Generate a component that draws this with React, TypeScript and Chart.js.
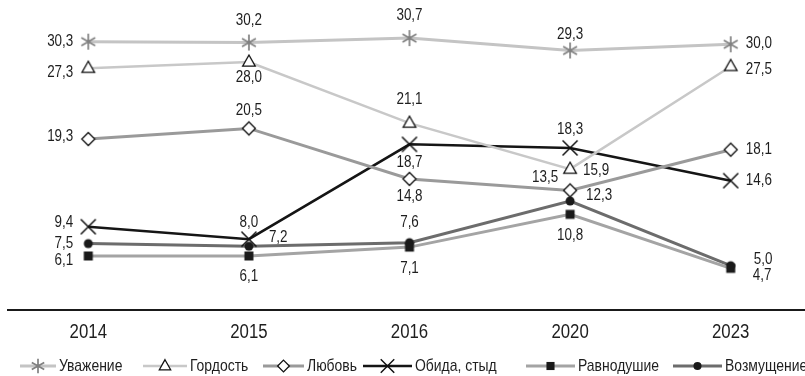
import React, { useEffect, useRef } from "react";
import { Chart, registerables } from "chart.js";

Chart.register(...registerables);

const years = ["2014", "2015", "2016", "2020", "2023"];
const seriesNames = ["Уважение", "Гордость", "Любовь", "Обида, стыд", "Равнодушие", "Возмущение"];
const respect = [30.3, 30.2, 30.7, 29.3, 30.0];
const pride = [27.3, 28.0, 21.1, 15.9, 27.5];
const love = [19.3, 20.5, 14.8, 13.5, 18.1];
const shame = [9.4, 8.0, 18.7, 18.3, 14.6];
const indifference = [6.1, 6.1, 7.1, 10.8, 4.7];
const indignation = [7.5, 7.2, 7.6, 12.3, 5.0];
const seriesValues = [respect, pride, love, shame, indifference, indignation];

// label placement per point: [dx, dy, align]
type Place = [number, number, CanvasTextAlign];
const labelPlacement: Place[][] = [
  [[-15, 0, "right"], [0, -22, "center"], [0, -22, "center"], [0, -16, "center"], [15, -1, "left"]],
  [[-15, 4, "right"], [0, 16, "center"], [0, -24, "center"], [13, 1, "left"], [15, 3, "left"]],
  [[-15, -2, "right"], [0, -18, "center"], [0, 18, "center"], [-25, -13, "center"], [15, 0, "left"]],
  [[-15, -4, "right"], [0, -17, "center"], [0, 18, "center"], [0, -18, "center"], [15, 0, "left"]],
  [[-15, 5, "right"], [0, 21, "center"], [0, 21, "center"], [0, 21, "center"], [22, 7, "left"]],
  [[-15, 0, "right"], [20, -9, "left"], [0, -20, "center"], [16, -5, "left"], [23, -6, "left"]],
];

const lineColors = ["#c4c4c4", "#c8c8c8", "#9a9a9a", "#151515", "#a4a4a4", "#6c6c6c"];
const lineWidths = [3, 2.5, 3, 2.5, 3, 3];
const markerKinds = ["asterisk", "triangle", "diamond", "x", "square", "circle"];

const legendX = [20, 143, 263, 363, 526, 673];
const legendLen = [36, 44, 41, 49, 49, 49];

const FONT = '"Liberation Sans", Arial, sans-serif';

function drawText(ctx: CanvasRenderingContext2D, text: string, x: number, y: number, align: CanvasTextAlign, size: number, squeeze = 0.84) {
  ctx.save();
  ctx.font = `${size}px ${FONT}`;
  ctx.textAlign = align;
  ctx.textBaseline = "middle";
  ctx.translate(x, y);
  ctx.scale(squeeze, 1);
  ctx.fillText(text, 0, 0);
  ctx.restore();
}

function drawMarker(ctx: CanvasRenderingContext2D, kind: string, x: number, y: number, s = 1) {
  ctx.save();
  ctx.setLineDash([]);
  if (kind === "asterisk") {
    ctx.strokeStyle = "#808080";
    ctx.lineWidth = 1.7;
    const r = 8 * s;
    ctx.beginPath();
    for (const a of [90, 30, 150]) {
      const rad = (a * Math.PI) / 180;
      ctx.moveTo(x - Math.cos(rad) * r, y - Math.sin(rad) * r);
      ctx.lineTo(x + Math.cos(rad) * r, y + Math.sin(rad) * r);
    }
    ctx.stroke();
  } else if (kind === "triangle") {
    const r = 7 * s;
    ctx.fillStyle = "#fff";
    ctx.strokeStyle = "#111";
    ctx.lineWidth = 1.3;
    ctx.beginPath();
    ctx.moveTo(x, y - r);
    ctx.lineTo(x + r * 0.9, y + r * 0.6);
    ctx.lineTo(x - r * 0.9, y + r * 0.6);
    ctx.closePath();
    ctx.fill();
    ctx.stroke();
  } else if (kind === "diamond") {
    const r = 6.5 * s;
    ctx.fillStyle = "#fff";
    ctx.strokeStyle = "#111";
    ctx.lineWidth = 1.3;
    ctx.beginPath();
    ctx.moveTo(x, y - r);
    ctx.lineTo(x + r, y);
    ctx.lineTo(x, y + r);
    ctx.lineTo(x - r, y);
    ctx.closePath();
    ctx.fill();
    ctx.stroke();
  } else if (kind === "x") {
    const r = 7.5 * s;
    ctx.strokeStyle = "#111";
    ctx.lineWidth = 1.5;
    ctx.beginPath();
    ctx.moveTo(x - r, y - r);
    ctx.lineTo(x + r, y + r);
    ctx.moveTo(x + r, y - r);
    ctx.lineTo(x - r, y + r);
    ctx.stroke();
  } else if (kind === "square") {
    const h = 4.5 * s;
    ctx.fillStyle = "#1a1a1a";
    ctx.fillRect(x - h, y - h, 2 * h, 2 * h);
  } else if (kind === "circle") {
    ctx.fillStyle = "#1a1a1a";
    ctx.beginPath();
    ctx.arc(x, y, 4.5 * s, 0, Math.PI * 2);
    ctx.fill();
  }
  ctx.restore();
}

function markerImage(kind: string): HTMLCanvasElement {
  const c = document.createElement("canvas");
  c.width = 20;
  c.height = 20;
  const ctx = c.getContext("2d")!;
  drawMarker(ctx, kind, 10, 10);
  return c;
}

const labelsPlugin = {
  id: "valueLabels",
  afterDatasetsDraw(chart: any) {
    const ctx: CanvasRenderingContext2D = chart.ctx;
    ctx.save();
    ctx.fillStyle = "#1e1e1e";
    chart.data.datasets.forEach((ds: any, i: number) => {
      const meta = chart.getDatasetMeta(i);
      meta.data.forEach((el: any, j: number) => {
        const [dx, dy, align] = labelPlacement[i][j];
        const txt = Number(ds.data[j]).toFixed(1).replace(".", ",");
        drawText(ctx, txt, el.x + dx, el.y + dy, align, 16);
      });
    });
    // year labels under the axis
    const xs = chart.scales.x;
    years.forEach((yr, i) => {
      drawText(ctx, yr, xs.getPixelForValue(i), xs.top + 22, "center", 20);
    });
    ctx.restore();
  },
};

const legendPlugin = {
  id: "customLegend",
  afterDraw(chart: any) {
    const ctx: CanvasRenderingContext2D = chart.ctx;
    const y = 366;
    ctx.save();
    ctx.fillStyle = "#1e1e1e";
    seriesNames.forEach((name, i) => {
      const x0 = legendX[i];
      const len = legendLen[i];
      ctx.strokeStyle = lineColors[i];
      ctx.lineWidth = lineWidths[i];
      ctx.beginPath();
      ctx.moveTo(x0, y);
      ctx.lineTo(x0 + len, y);
      ctx.stroke();
      drawMarker(ctx, markerKinds[i], x0 + len / 2, y, 0.9);
      drawText(ctx, name, x0 + len + 3, y, "left", 17, 0.82);
    });
    ctx.restore();
  },
};

export default function App() {
  const ref = useRef<HTMLCanvasElement | null>(null);
  useEffect(() => {
    if (!ref.current) return;
    const datasets = seriesNames.map((name, i) => ({
      label: name,
      data: seriesValues[i],
      borderColor: lineColors[i],
      borderWidth: lineWidths[i],
      backgroundColor: lineColors[i],
      pointStyle: markerImage(markerKinds[i]) as any,
      pointRadius: 8,
      pointHoverRadius: 8,
      tension: 0,
      fill: false,
    }));
    const chart = new Chart(ref.current, {
      type: "line",
      data: { labels: years, datasets },
      options: {
        responsive: false,
        animation: false,
        layout: { autoPadding: false, padding: { left: 8, right: 0, top: 0, bottom: 0 } },
        plugins: { legend: { display: false }, tooltip: { enabled: false } },
        scales: {
          x: {
            offset: true,
            grid: { display: false, drawTicks: false },
            border: { display: true, color: "#1a1a1a", width: 2 },
            ticks: { display: false },
            afterFit: (scale: any) => {
              scale.height = 66;
            },
          },
          y: { display: false, min: 0, max: 35 },
        },
      },
      plugins: [labelsPlugin, legendPlugin],
    });
    return () => chart.destroy();
  }, []);
  return (
    <div style={{ position: "absolute", left: 0, top: 0, width: 805, height: 376, overflow: "hidden", background: "#fff" }}>
      <canvas ref={ref} width={811} height={376} />
    </div>
  );
}
